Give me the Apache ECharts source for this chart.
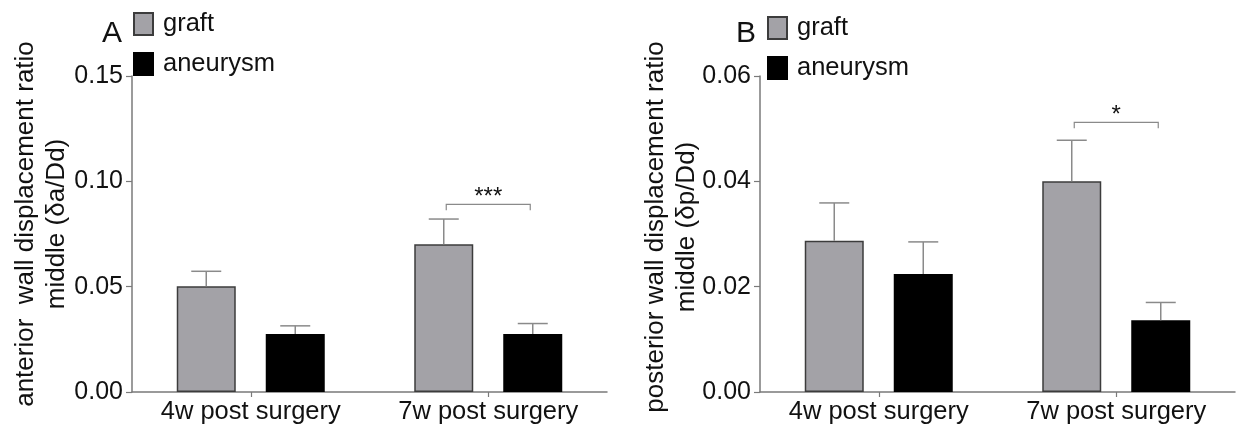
<!DOCTYPE html>
<html>
<head>
<meta charset="utf-8">
<script src="https://cdn.jsdelivr.net/npm/echarts@6/dist/echarts.min.js"></script>
<style>
html, body { margin: 0; padding: 0; background: #fff; }
#chart { width: 1237px; height: 429px; }
</style>
</head>
<body>
<div id="chart"></div>
<script>
// data
var categories = ['4w post surgery', '7w post surgery'];
var seriesNames = ['graft', 'aneurysm'];

// panel A: anterior wall
var graftA = [0.0502, 0.0701];
var graftAErr = [0.0071, 0.0120];
var aneurysmA = [0.0275, 0.0275];
var aneurysmAErr = [0.0039, 0.0050];
var ticksA = { min: 0, max: 0.15, interval: 0.05 };
var sigA = [{ cat: 1, y: 0.0891, text: '***' }];

// panel B: posterior wall
var graftB = [0.0287, 0.0400];
var graftBErr = [0.0072, 0.0078];
var aneurysmB = [0.0224, 0.0136];
var aneurysmBErr = [0.0061, 0.0034];
var ticksB = { min: 0, max: 0.06, interval: 0.02 };
var sigB = [{ cat: 1, y: 0.0512, text: '*' }];

var FONT = 'Liberation Sans, Arial, sans-serif';
var barW = 59, barGapPx = 30;
var barOffset = barW / 2 + barGapPx / 2;
var axisColor = '#7a7a7a';

function errData(vals, errs, side) {
	var out = [];
	for (var i = 0; i < vals.length; i++) out.push([i, vals[i], errs[i], side]);
	return out;
}

// error bar: line from bar top up to mean+err, with a cap
function renderErr(params, api) {
	var x = api.coord([api.value(0), 0])[0] + api.value(3) * barOffset;
	var yBar = api.coord([api.value(0), api.value(1)])[1];
	var yTop = api.coord([api.value(0), api.value(1) + api.value(2)])[1];
	var st = { stroke: '#8a8a8a', lineWidth: 1.5 };
	return {
		type: 'group',
		children: [
			{ type: 'line', shape: { x1: x, y1: yBar, x2: x, y2: yTop }, style: st },
			{ type: 'line', shape: { x1: x - 15, y1: yTop, x2: x + 15, y2: yTop }, style: st }
		]
	};
}

function sigRender(list) {
	return function(params, api) {
		var item = list[params.dataIndex];
		var c = api.coord([item.cat, item.y]);
		var x1 = c[0] - 42, x2 = c[0] + 42, y = c[1];
		var st = { stroke: '#8a8a8a', lineWidth: 1.2, fill: null };
		return {
			type: 'group',
			children: [
				{ type: 'polyline', shape: { points: [[x1, y + 6], [x1, y], [x2, y], [x2, y + 6]] }, style: st },
				{ type: 'text', style: { text: item.text, x: c[0], y: y + 5, align: 'center', verticalAlign: 'bottom', font: '24px ' + FONT, fill: '#111' } }
			]
		};
	};
}

function yAxisFor(idx, t) {
	return {
		type: 'value', gridIndex: idx, min: t.min, max: t.max, interval: t.interval,
		axisLine: { show: true, lineStyle: { color: axisColor, width: 1.5 } },
		axisTick: { show: true, length: 6, lineStyle: { color: axisColor, width: 1.2 } },
		axisLabel: { margin: 9, fontSize: 25, fontFamily: FONT, color: '#111', formatter: function(v) { return v.toFixed(2); } },
		splitLine: { show: false }
	};
}

function xAxisFor(idx) {
	return {
		type: 'category', gridIndex: idx, data: categories,
		axisLine: { show: true, lineStyle: { color: axisColor, width: 1.5 } },
		axisTick: { show: true, alignWithLabel: true, length: 5, lineStyle: { color: axisColor, width: 1.2 } },
		axisLabel: { margin: 7, fontSize: 25.5, fontFamily: FONT, color: '#111' }
	};
}

function barSeries(name, idx, vals, color, border) {
	return {
		name: name, type: 'bar', xAxisIndex: idx, yAxisIndex: idx, data: vals,
		barWidth: barW, barGap: (barGapPx / barW * 100) + '%',
		itemStyle: { color: color, borderColor: border, borderWidth: 1.5 },
		emphasis: { disabled: true }
	};
}

function legendFor(left, top) {
	return {
		data: seriesNames, left: left, top: top, orient: 'vertical', padding: 0,
		itemWidth: 19, itemHeight: 22, itemGap: 14, icon: 'rect', selectedMode: false,
		textStyle: { fontSize: 25.5, fontFamily: FONT, color: '#111', padding: [0, 0, 0, 5] }
	};
}

var chart = echarts.init(document.getElementById('chart'));
var option = {
	animation: false,
	grid: [
		{ left: 132, right: 630, top: 76, bottom: 37 },
		{ left: 760, right: 2, top: 76, bottom: 37 }
	],
	legend: [legendFor(133, 11), legendFor(767, 15)],
	xAxis: [xAxisFor(0), xAxisFor(1)],
	yAxis: [yAxisFor(0, ticksA), yAxisFor(1, ticksB)],
	graphic: [
		{ type: 'text', x: 112, y: 34, style: { text: 'A', font: '30px ' + FONT, fill: '#111', align: 'center', verticalAlign: 'middle' } },
		{ type: 'text', x: 746, y: 34, style: { text: 'B', font: '30px ' + FONT, fill: '#111', align: 'center', verticalAlign: 'middle' } },
		{ type: 'text', x: 41, y: 224, rotation: Math.PI / 2,
		  style: { text: 'anterior  wall displacement ratio\nmiddle (δa/Dd)', font: '26px ' + FONT, lineHeight: 31, fill: '#111', align: 'center', verticalAlign: 'middle' } },
		{ type: 'text', x: 671, y: 227, rotation: Math.PI / 2,
		  style: { text: 'posterior wall displacement ratio\nmiddle (δp/Dd)', font: '26px ' + FONT, lineHeight: 31, fill: '#111', align: 'center', verticalAlign: 'middle' } }
	],
	series: [
		barSeries('graft', 0, graftA, '#a3a2a7', '#3c3c3c'),
		barSeries('aneurysm', 0, aneurysmA, '#000', '#000'),
		barSeries('graft', 1, graftB, '#a3a2a7', '#3c3c3c'),
		barSeries('aneurysm', 1, aneurysmB, '#000', '#000'),
		{ type: 'custom', xAxisIndex: 0, yAxisIndex: 0, renderItem: renderErr, data: errData(graftA, graftAErr, -1).concat(errData(aneurysmA, aneurysmAErr, 1)), z: 3, silent: true },
		{ type: 'custom', xAxisIndex: 1, yAxisIndex: 1, renderItem: renderErr, data: errData(graftB, graftBErr, -1).concat(errData(aneurysmB, aneurysmBErr, 1)), z: 3, silent: true },
		{ type: 'custom', xAxisIndex: 0, yAxisIndex: 0, renderItem: sigRender(sigA), data: sigA.map(function(s) { return [s.cat, s.y]; }), z: 3, silent: true },
		{ type: 'custom', xAxisIndex: 1, yAxisIndex: 1, renderItem: sigRender(sigB), data: sigB.map(function(s) { return [s.cat, s.y]; }), z: 3, silent: true }
	]
};
chart.setOption(option);
</script>
</body>
</html>
